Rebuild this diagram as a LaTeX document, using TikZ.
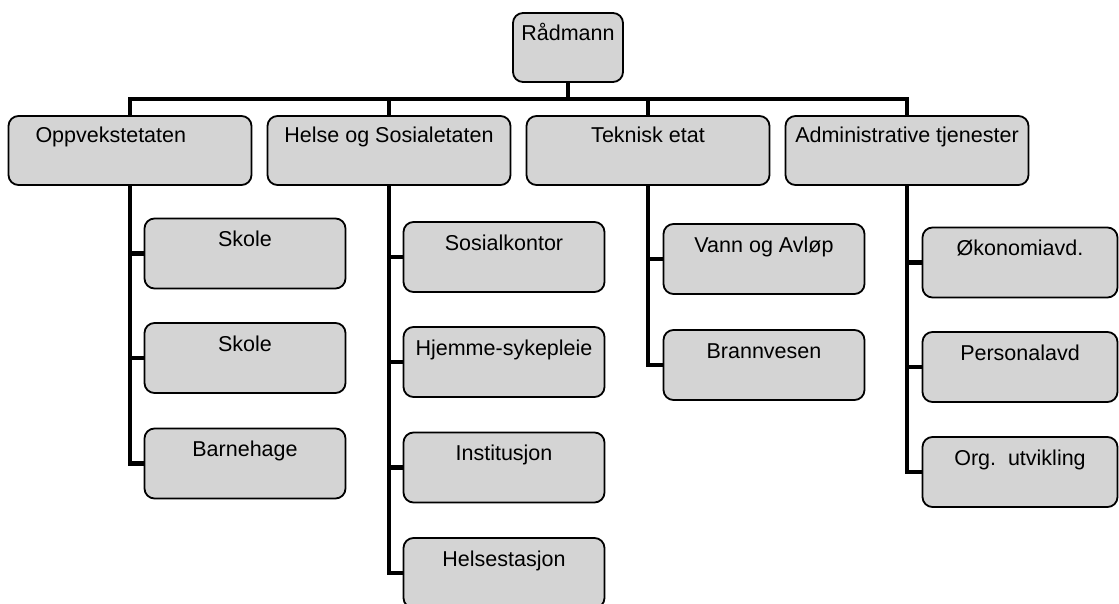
\documentclass[tikz,border=0pt]{standalone}
\usepackage{fontspec}
\setmainfont{Liberation Sans}
\begin{document}
\begin{tikzpicture}[x=1pt, y=-1pt,
        every node/.style={font=\fontsize{21.5}{25}\selectfont},
        enhet/.style={draw, line width=1.8pt, rounded corners=10pt, fill=black!17,
            inner xsep=0pt, text height=15pt},
        leder/.style={enhet, minimum width=110pt, minimum height=69pt,
            inner ysep=12pt, text depth=30pt},
        etat/.style={enhet, minimum width=243pt, minimum height=69pt,
            inner ysep=11pt, text depth=32pt},
        avd/.style={enhet, minimum width=201pt, minimum height=70pt,
            inner ysep=13pt, text depth=29pt},
        linje/.style={line width=4.5pt}]
        \useasboundingbox (0,0) rectangle (1119,603);

        % Toppleder
        \node[leder] (radmann) at (568,47.5) {Rådmann};
        \coordinate (bus) at (568,99);

        % Etatene
        \node[etat, text width=189pt, inner xsep=27pt, align=left] (oppv) at (130,150.5) {Oppvekstetaten};
        \node[etat] (helse) at (389,150.5) {Helse og Sosialetaten};
        \node[etat] (teknisk) at (648,150.5) {Teknisk etat};
        \node[etat] (admin) at (907,150.5) {Administrative tjenester};

        % Oppvekstetaten
        \node[avd] (skole1) at (245,253.5) {Skole};
        \node[avd] (skole2) at (245,358) {Skole};
        \node[avd] (barnehage) at (245,463.5) {Barnehage};

        % Helse og Sosialetaten
        \node[avd] (sosial) at (504,257) {Sosialkontor};
        \node[avd] (hjemme) at (504,362) {Hjemme-sykepleie};
        \node[avd] (institusjon) at (504,467.5) {Institusjon};
        \node[avd] (helsestasjon) at (504,573) {Helsestasjon};

        % Teknisk etat
        \node[avd] (vann) at (764,259) {Vann og Avløp};
        \node[avd] (brann) at (764,365) {Brannvesen};

        % Administrative tjenester
        \node[avd, minimum width=195pt] (okonomi) at (1020,262.5) {Økonomiavd.};
        \node[avd, minimum width=195pt] (personal) at (1020,367) {Personalavd};
        \node[avd, minimum width=195pt] (org) at (1020,472) {Org.\ \ utvikling};

        % Linjer
        \foreach \e in {oppv,helse,teknisk,admin}
            \draw[linje] (radmann.south) -- (radmann.south |- bus) -| (\e.north);
        \foreach \p/\c in {oppv/skole1,oppv/skole2,oppv/barnehage,
                helse/sosial,helse/hjemme,helse/institusjon,helse/helsestasjon,
                teknisk/vann,teknisk/brann,
                admin/okonomi,admin/personal,admin/org}
            \draw[linje] (\p.south) |- (\c.west);
    \end{tikzpicture}
\end{document}
